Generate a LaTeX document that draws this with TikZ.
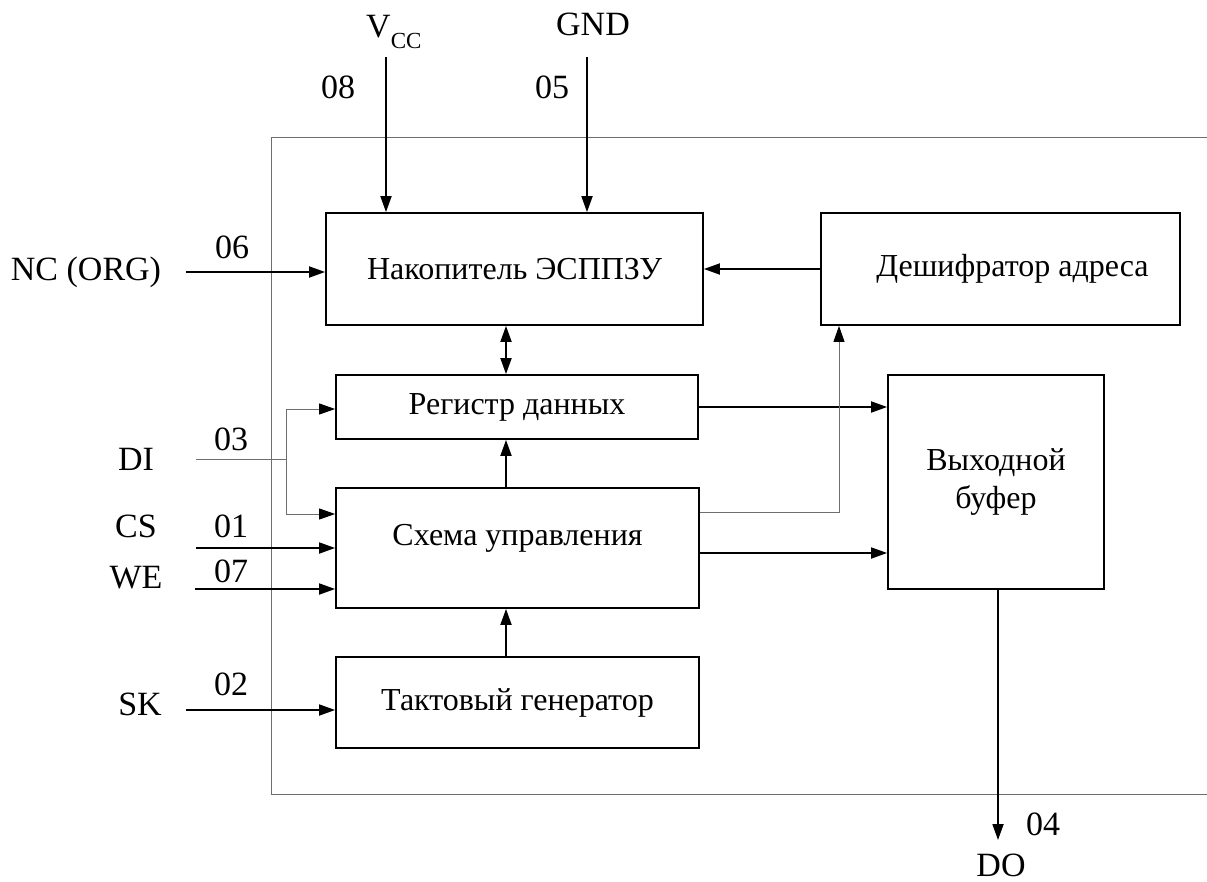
\documentclass[tikz,border=0pt]{standalone}
\usepackage{fontspec}
\setmainfont{Liberation Serif}
\usetikzlibrary{arrows.meta}
\definecolor{wgray}{RGB}{110,110,110}
\begin{document}
\begin{tikzpicture}[x=1pt,y=-1pt,
  >={Triangle[length=16pt,width=11pt,color=black]},
  box/.style={draw, line width=1.8pt, inner sep=0pt, align=center,
              font=\fontsize{32}{38}\selectfont},
  wire/.style={line width=1.8pt, ->},
  thinwire/.style={line width=0.9pt, draw=wgray, ->},
  frame/.style={line width=1pt, draw=wgray},
  pin/.style={font=\fontsize{34}{40}\selectfont, inner sep=0pt, anchor=base}]
\useasboundingbox (0,0) rectangle (1207,881);

% outer frame
\draw[frame] (1207,137) -- (271,137) -- (271,794) -- (1207,794);

% blocks
\node[box, minimum width=377pt, minimum height=112pt] (nak) at (514.5,269) {Накопитель ЭСППЗУ};
\node[box, minimum width=359pt, minimum height=112pt,
      label={[xshift=12pt, font=\fontsize{32}{38}\selectfont, name=desh-t]center:Дешифратор адреса}] (desh) at (1000.5,269) {};
\node[box, minimum width=362pt, minimum height=64pt] (reg) at (517,407) {Регистр данных};
\node[box, minimum width=363pt, minimum height=120pt, text height=22pt, text depth=28pt] (sx) at (517.5,548) {Схема управления};
\node[box, minimum width=363pt, minimum height=91pt] (takt) at (517.5,702.5) {Тактовый генератор};
\node[box, minimum width=216pt, minimum height=214pt] (buf) at (996,482) {Выходной\\буфер};

% pin labels
\node[pin, anchor=base west] (vcc) at (366,37) {V\raisebox{-11pt}{\fontsize{23}{23}\selectfont CC}};
\node[pin] (gnd) at (593,35) {GND};
\node[pin] (p08) at (338,98) {08};
\node[pin] (p05) at (552,98) {05};
\node[pin] (nc) at (86,280) {NC (ORG)};
\node[pin] (p06) at (232,258) {06};
\node[pin] (di) at (136,470) {DI};
\node[pin] (p03) at (231,450) {03};
\node[pin] (cs) at (136,537) {CS};
\node[pin] (p01) at (231,537) {01};
\node[pin] (we) at (136,588) {WE};
\node[pin] (p07) at (231,582) {07};
\node[pin] (sk) at (140,715) {SK};
\node[pin] (p02) at (231,695) {02};
\node[pin] (p04) at (1043,835) {04};
\node[pin] (do) at (1001,876) {DO};

% free ends and bends
\coordinate (vcc-s) at (386,57);
\coordinate (gnd-s) at (587,57);
\coordinate (nc-s) at (186,272);
\coordinate (bus) at (506,0);
\coordinate (di-s) at (196,459);
\coordinate (di-j) at (286,459);
\coordinate (di-b) at (286,514);
\coordinate (di-t) at (286,409);
\coordinate (cs-s) at (196,548);
\coordinate (we-s) at (195,589);
\coordinate (sk-s) at (186,710);
\coordinate (ctl-y) at (0,553);
\coordinate (dx) at (839,512);
\coordinate (do-e) at (998,840);

% connectors
\draw[wire] (vcc-s) -- (vcc-s |- nak.north);
\draw[wire] (gnd-s) -- (gnd-s |- nak.north);
\draw[wire] (nc-s) -- (nc-s -| nak.west);
\draw[wire] (desh.west) -- (nak.east);
\draw[wire, <->] (bus |- nak.south) -- (bus |- reg.north);
\draw[wire] (bus |- sx.north) -- (bus |- reg.south);
\draw[wire] (bus |- takt.north) -- (bus |- sx.south);
\draw[thinwire, -] (di-s) -- (di-j);
\draw[thinwire, <->] (di-t -| reg.west) -- (di-t) -- (di-b) -- (di-b -| sx.west);
\draw[wire] (cs-s) -- (cs-s -| sx.west);
\draw[wire] (we-s) -- (we-s -| sx.west);
\draw[wire] (sk-s) -- (sk-s -| takt.west);
\draw[wire] (reg.east) -- (reg.east -| buf.west);
\draw[wire] (sx.east |- ctl-y) -- (buf.west |- ctl-y);
\draw[thinwire] (sx.east |- dx) -- (dx) -- (dx |- desh.south);
\draw[wire] (do-e |- buf.south) -- (do-e);
\end{tikzpicture}
\end{document}
